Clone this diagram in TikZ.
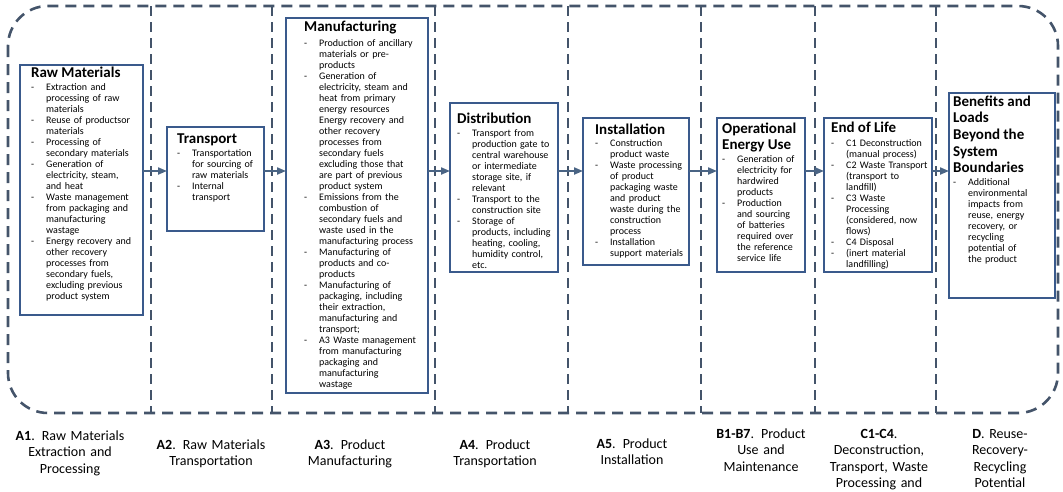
\documentclass[tikz,border=0pt]{standalone}
\usepackage{fontspec}
\setmainfont{Carlito}
\usetikzlibrary{arrows.meta}
\definecolor{dashc}{HTML}{44546A}
\definecolor{boxc}{HTML}{3A5A8C}
\definecolor{arrc}{HTML}{4A6484}
\hyphenpenalty=10000
\newcommand{\bi}[1]{\par\noindent\hangindent=15pt\hangafter=1\makebox[15pt][l]{-}#1\par}
\newcommand{\btitle}[2][2pt]{{\fontsize{15}{16.7}\selectfont\bfseries #2\par}\vspace{#1}}
\tikzset{
 frame/.style={draw=dashc, line width=2.6pt, dash pattern=on 11pt off 7pt},
 divider/.style={draw=dashc, line width=2.4pt, dash pattern=on 10pt off 6pt},
 stagebox/.style={draw=boxc, line width=2.2pt, anchor=north west, inner sep=0pt, outer sep=0pt},
 stagetext/.style={anchor=base west, inner sep=0pt, align=left, text width=130pt,
   font=\fontsize{10}{11}\selectfont},
 lbl/.style={anchor=base, inner sep=0pt, align=center, text width=140pt, font=\fontsize{14}{16.5}\selectfont},
 flow/.style={draw=arrc, line width=2pt, -{Triangle[length=9pt,width=7pt]}},
}
\begin{document}
\begin{tikzpicture}[x=1pt,y=-1pt]
\useasboundingbox (0,0) rectangle (1063,491);
% outer frame and column dividers
\draw[frame, rounded corners=40pt] (8,6) rectangle (1058,413);
\foreach \dx in {151,272,435,568,701,815,936}{
  \draw[divider] (\dx,6) -- (\dx,413);
}
% boxes
\node[stagebox, minimum width=123pt, minimum height=250pt] (raw) at (20,65) {};
\node[stagebox, minimum width=97pt, minimum height=104pt] (trn) at (167,127) {};
\node[stagebox, minimum width=142pt, minimum height=375pt] (man) at (286,18) {};
\node[stagebox, minimum width=108pt, minimum height=169pt] (dis) at (450,103) {};
\node[stagebox, minimum width=106pt, minimum height=147pt] (ins) at (583,118) {};
\node[stagebox, minimum width=88pt, minimum height=154pt] (ope) at (717,118) {};
\node[stagebox, minimum width=108pt, minimum height=154pt] (eol) at (824,118) {};
\node[stagebox, minimum width=106pt, minimum height=205pt] (ben) at (949,93) {};
% box texts
\node[stagetext] (rawt) at (31,77) {\btitle{Raw Materials}%
\bi{Extraction and\newline processing of raw\newline materials}%
\bi{Reuse of productsor\newline materials}%
\bi{Processing of\newline secondary materials}%
\bi{Generation of\newline electricity, steam,\newline and heat}%
\bi{Waste management\newline from packaging and\newline manufacturing\newline wastage}%
\bi{Energy recovery and\newline other recovery\newline processes from\newline secondary fuels,\newline excluding previous\newline product system}};
\node[stagetext] (trnt) at (177,143) {\btitle{Transport}%
\bi{Transportation\newline for sourcing of\newline raw materials}%
\bi{Internal\newline transport}};
\node[stagetext] (mant) at (304,31) {\btitle[4pt]{Manufacturing}%
\bi{Production of ancillary\newline materials or pre-\newline products}%
\bi{Generation of\newline electricity, steam and\newline heat from primary\newline energy resources\newline Energy recovery and\newline other recovery\newline processes from\newline secondary fuels\newline excluding those that\newline are part of previous\newline product system}%
\bi{Emissions from the\newline combustion of\newline secondary fuels and\newline waste used in the\newline manufacturing process}%
\bi{Manufacturing of\newline products and co-\newline products}%
\bi{Manufacturing of\newline packaging, including\newline their extraction,\newline manufacturing and\newline transport;}%
\bi{A3 Waste management\newline from manufacturing\newline packaging and\newline manufacturing\newline wastage}};
\node[stagetext] (dist) at (457,123) {\btitle{Distribution}%
\bi{Transport from\newline production gate to\newline central warehouse\newline or intermediate\newline storage site, if\newline relevant}%
\bi{Transport to the\newline construction site}%
\bi{Storage of\newline products, including\newline heating, cooling,\newline humidity control,\newline etc.}};
\node[stagetext] (inst) at (595,134) {\btitle[1pt]{Installation}%
\bi{Construction\newline product waste}%
\bi{Waste processing\newline of product\newline packaging waste\newline and product\newline waste during the\newline construction\newline process}%
\bi{Installation\newline support materials}};
\node[stagetext] (opet) at (722,133) {\btitle{Operational\newline Energy Use}%
\bi{Generation of\newline electricity for\newline hardwired\newline products}%
\bi{Production\newline and sourcing\newline of batteries\newline required over\newline the reference\newline service life}};
\node[stagetext] (eolt) at (831,132) {\btitle[3pt]{End of Life}%
\bi{C1 Deconstruction\newline (manual process)}%
\bi{C2 Waste Transport\newline (transport to\newline landfill)}%
\bi{C3 Waste\newline Processing\newline (considered, now\newline flows)}%
\bi{C4 Disposal}%
\bi{(inert material\newline landfilling)}};
\node[stagetext] (bent) at (953,106) {\btitle{Benefits and\newline Loads\newline Beyond the\newline System\newline Boundaries}%
\bi{Additional\newline environmental\newline impacts from\newline reuse, energy\newline recovery, or\newline recycling\newline potential of\newline the product}};
% flow arrows
\coordinate (fy) at (0,171);
\draw[flow] (raw.east |- fy) -- (trn.west |- fy);
\draw[flow] (trn.east |- fy) -- (man.west |- fy);
\draw[flow] (man.east |- fy) -- (dis.west |- fy);
\draw[flow] (dis.east |- fy) -- (ins.west |- fy);
\draw[flow] (ins.east |- fy) -- (ope.west |- fy);
\draw[flow] (ope.east |- fy) -- (eol.west |- fy);
\draw[flow] (eol.east |- fy) -- (ben.west |- fy);
% stage labels
\node[lbl] (la1) at (70,440) {\textbf{A1}. Raw Materials\\Extraction and\\Processing};
\node[lbl] (la2) at (211,449) {\textbf{A2}. Raw Materials\\Transportation};
\node[lbl] (la3) at (350,449) {\textbf{A3}. Product\\Manufacturing};
\node[lbl] (la4) at (495,449) {\textbf{A4}. Product\\Transportation};
\node[lbl] (la5) at (632,448) {\textbf{A5}. Product\\Installation};
\node[lbl] (lb) at (761,438) {\textbf{B1-B7}. Product\\Use and\\Maintenance};
\node[lbl] (lc) at (879,438) {\textbf{C1-C4}.\\Deconstruction,\\Transport, Waste\\Processing and};
\node[lbl] (ld) at (1000,438) {\textbf{D}. Reuse-\\Recovery-\\Recycling\\Potential};
\end{tikzpicture}
\end{document}
